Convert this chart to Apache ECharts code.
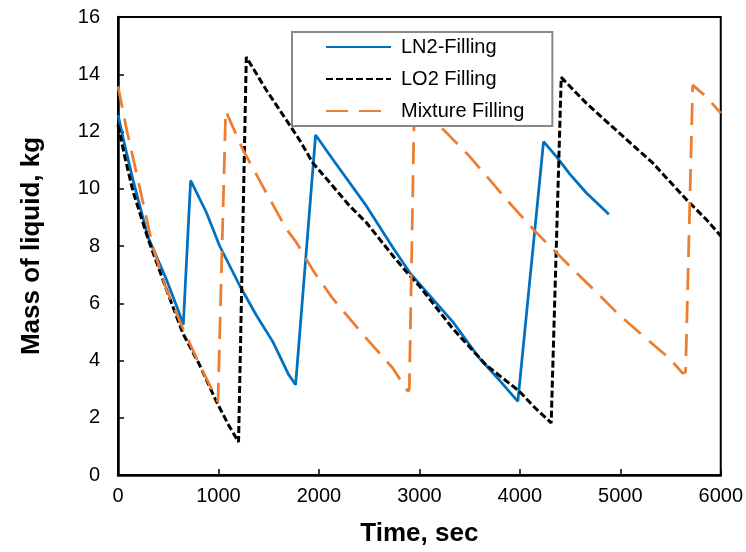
<!DOCTYPE html>
<html>
<head>
<meta charset="utf-8">
<script src="https://cdn.jsdelivr.net/npm/echarts@6/dist/echarts.min.js"></script>
<style>
  html, body { margin: 0; padding: 0; background: #fff; }
  #chart { width: 746px; height: 552px; }
</style>
</head>
<body>
<div id="chart"></div>
<script>
// LN2 filling
var ln2Time = [0, 75, 150, 300, 480, 600, 650, 723, 880, 1012, 1211, 1377, 1542, 1700, 1768, 1967, 2139, 2472, 2736, 2902, 3001, 3333, 3600, 3800, 3980, 4236, 4362, 4500, 4661, 4886];
var ln2Mass = [12.58, 11.4, 10.3, 8.3, 6.85, 5.75, 5.25, 10.29, 9.17, 8.0, 6.62, 5.58, 4.65, 3.5, 3.15, 11.88, 11.02, 9.4, 7.95, 7.08, 6.68, 5.35, 4.07, 3.3, 2.57, 11.65, 11.13, 10.5, 9.86, 9.11];

// LO2 filling
var lo2Time = [0, 75, 150, 300, 480, 647, 813, 979, 1100, 1200, 1277, 1476, 1600, 1808, 1940, 2139, 2305, 2472, 2604, 2750, 2902, 3001, 3333, 3665, 3997, 4150, 4312, 4412, 4661, 4992, 5323, 5656, 5855, 6000];
var lo2Mass = [12.23, 11.0, 9.9, 8.24, 6.5, 4.94, 3.84, 2.57, 1.75, 1.15, 14.6, 13.45, 12.8, 11.7, 10.9, 10.09, 9.4, 8.82, 8.24, 7.6, 6.97, 6.6, 5.11, 3.84, 2.92, 2.35, 1.82, 13.89, 12.99, 11.94, 10.9, 9.63, 8.93, 8.35];

// Mixture filling
var mixTime = [0, 90, 183, 348, 480, 647, 813, 962, 995, 1010, 1072, 1244, 1476, 1676, 1775, 1950, 2139, 2472, 2736, 2886, 2900, 2950, 3267, 3500, 3865, 4163, 4494, 4760, 4992, 5258, 5490, 5622, 5650, 5721, 5855, 6000];
var mixMass = [13.58, 12.0, 10.56, 7.95, 6.5, 5.11, 3.84, 2.8, 2.55, 2.6, 12.72, 11.36, 9.86, 8.59, 8.13, 7.1, 6.16, 4.77, 3.73, 2.92, 3.0, 13.0, 11.97, 11.13, 9.63, 8.47, 7.31, 6.39, 5.58, 4.77, 4.07, 3.55, 3.6, 13.62, 13.22, 12.64];

var seriesNames = ['LN2-Filling', 'LO2 Filling', 'Mixture Filling'];

function pairs(t, v) {
    return t.map(function (x, i) { return [x, v[i]]; });
}

var chart = echarts.init(document.getElementById('chart'));
var font = "'Liberation Sans', Arial, sans-serif";

var option = {
    animation: false,
    backgroundColor: '#fff',
    grid: {
        left: 118, right: 25, top: 17, bottom: 75,
        show: true, borderColor: '#000', borderWidth: 2
    },
    legend: {
        orient: 'vertical',
        left: 292, top: 32,
        backgroundColor: '#fff',
        borderColor: '#888', borderWidth: 2,
        padding: [5, 28, 5, 33],
        itemWidth: 65, itemHeight: 20, itemGap: 12,
        itemStyle: { opacity: 0 },
        textStyle: { fontSize: 20, fontFamily: font, color: '#000', padding: [0, 0, 0, 5] },
        data: seriesNames
    },
    xAxis: {
        type: 'value',
        min: 0, max: 6000, interval: 1000,
        name: 'Time, sec',
        nameLocation: 'middle', nameGap: 46,
        nameTextStyle: { fontSize: 26, fontWeight: 'bold', fontFamily: font, color: '#000' },
        axisLine: { lineStyle: { color: '#000', width: 2.5 } },
        axisTick: { inside: true, length: 6, lineStyle: { color: '#000', width: 1.5 } },
        axisLabel: {
            fontSize: 20, fontFamily: font, color: '#000', margin: 11,
            formatter: function (v) { return String(v); }
        },
        splitLine: { show: false }
    },
    yAxis: {
        type: 'value',
        min: 0, max: 16, interval: 2,
        name: 'Mass of liquid, kg',
        nameLocation: 'middle', nameGap: 73,
        nameTextStyle: { fontSize: 26, fontWeight: 'bold', fontFamily: font, color: '#000' },
        axisLine: { show: true, lineStyle: { color: '#000', width: 2.5 } },
        axisTick: { show: true, inside: true, length: 6, lineStyle: { color: '#000', width: 1.5 } },
        axisLabel: { fontSize: 20, fontFamily: font, color: '#000', margin: 18 },
        splitLine: { show: false }
    },
    series: [{
        name: seriesNames[0],
        type: 'line',
        symbol: 'none',
        data: pairs(ln2Time, ln2Mass),
        lineStyle: { color: '#0070C0', width: 2.75 },
        itemStyle: { color: '#0070C0' }
    }, {
        name: seriesNames[1],
        type: 'line',
        symbol: 'none',
        data: pairs(lo2Time, lo2Mass),
        lineStyle: { color: '#000', width: 3, type: [7, 3] },
        itemStyle: { color: '#000' }
    }, {
        name: seriesNames[2],
        type: 'line',
        symbol: 'none',
        data: pairs(mixTime, mixMass),
        lineStyle: { color: '#ED7D31', width: 2.75, type: [22, 11] },
        itemStyle: { color: '#ED7D31' }
    }]
};

chart.setOption(option);
</script>
</body>
</html>
